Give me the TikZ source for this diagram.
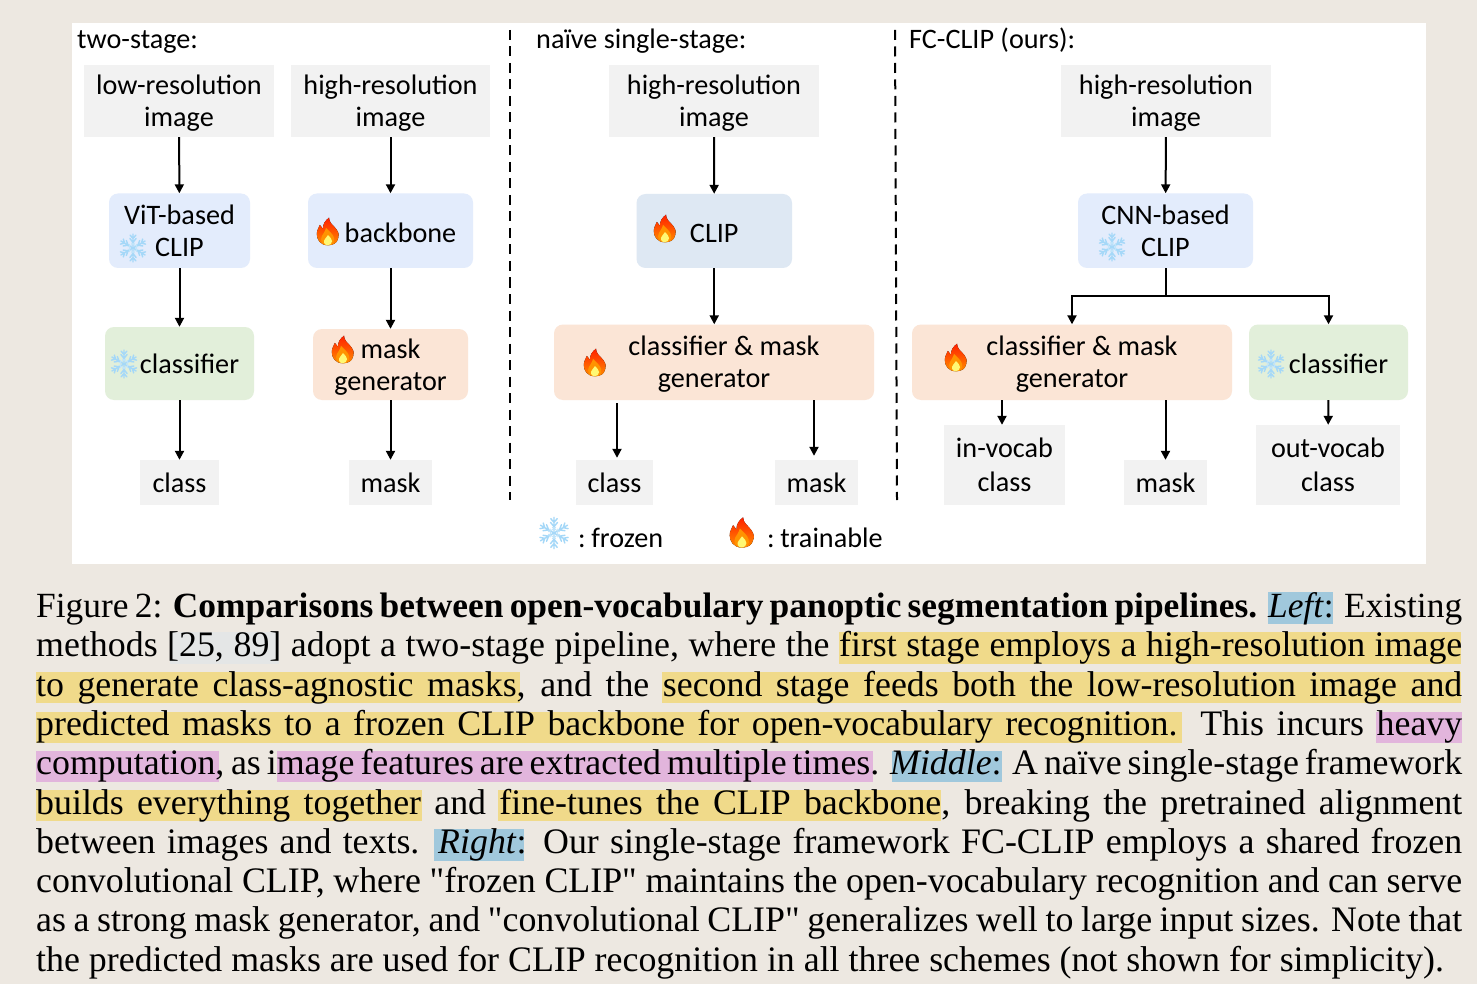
\documentclass[tikz,border=0pt]{standalone}
\usepackage{fontspec}
\newfontfamily\capfont{Liberation Serif}
\newfontfamily\dfont{Carlito}
\usetikzlibrary{arrows.meta,calc}
\definecolor{pagebg}{HTML}{EDE8E1}
\definecolor{grayb}{HTML}{F2F2F2}
\definecolor{blueb}{HTML}{E3ECFC}
\definecolor{blueC}{HTML}{DEE8F3}
\definecolor{greenb}{HTML}{E2EFDA}
\definecolor{orangeb}{HTML}{FBE5D6}
\definecolor{hy}{HTML}{F0DA8A}
\definecolor{hp}{HTML}{E2B5DC}
\definecolor{hb}{HTML}{A0C8DC}
\definecolor{hg}{HTML}{E4E6E6}
\definecolor{snow}{HTML}{A5D8F8}
\tikzset{
  x=1pt,y=-1pt,
  conn/.style={line width=2pt,-{Triangle[length=9pt,width=9pt]}},
  plainconn/.style={line width=2pt},
  divider/.style={line width=2pt,dash pattern=on 10pt off 6.5pt},
  dtext/.style={font=\dfont\fontsize{28.2}{32}\selectfont,text=black,align=center,inner sep=0pt},
  head/.style={font=\dfont\fontsize{28.2}{32}\selectfont,anchor=base west,inner sep=0pt},
  capline/.style={anchor=base west,inner sep=0pt,font=\capfont\fontsize{35.85}{39}\selectfont},
}
\newcommand{\dnb}{\rule{0pt}{24.2pt}}% lowers a two-line text by about 2 units
\newcommand{\dna}{\rule{0pt}{23pt}}% lowers a one-line text by about 1 unit
% box given by its corners
\newcommand{\bx}[8]{% name, x1,y1,x2,y2, colour, radius, text
  \node[dtext,fill=#6,rounded corners=#7,minimum width={#4-#2},minimum height={#5-#3},anchor=center] (#1) at ({(#2+#4)/2},{(#3+#5)/2}) {#8};}
\newcommand{\flame}[3]{%
  \begin{scope}[shift={(#1,#2)},scale=#3]
    \fill[top color=red!75!orange,bottom color=orange!90!yellow]
      (0,13) .. controls (-8,13) and (-11,7) .. (-11,2) .. controls (-11,-2) and (-9,-4) .. (-8,-7)
      .. controls (-6,-5) and (-6,-4) .. (-5,-3) .. controls (-5,-8) and (-3,-11) .. (1,-14)
      .. controls (1,-9) and (5,-7) .. (8,-3) .. controls (11,1) and (11,4) .. (10,6)
      .. controls (9,11) and (5,13) .. (0,13) -- cycle;
    \fill[orange!85!yellow] (0,13) .. controls (-6,13) and (-8,8) .. (-6,4) .. controls (-5,2) and (-3,0) .. (-2,-4)
      .. controls (1,-1) and (5,2) .. (6,6) .. controls (7,10) and (4,13) .. (0,13) -- cycle;
    \fill[yellow!55!white] (0,13) .. controls (-4,13) and (-5,9) .. (-3,7) .. controls (-2,6) and (-1,4) .. (0,3)
      .. controls (2,5) and (4,7) .. (4,9) .. controls (4,11) and (2,13) .. (0,13) -- cycle;
  \end{scope}}
\newcommand{\flake}[3]{%
  \begin{scope}[shift={(#1,#2)},scale=#3]
    \foreach \a in {30,90,150,210,270,330}{
      \begin{scope}[rotate=\a]
        \draw[snow,line width=1.4pt,line cap=round] (0,0) -- (12.5,0)
          (5,0) -- (8.5,2.8) (5,0) -- (8.5,-2.8) (8.5,0) -- (11.5,2.6) (8.5,0) -- (11.5,-2.6);
        \draw[snow!70!white,line width=.9pt] (2.5,-1.5) -- (4.5,1.5) (2.5,1.5) -- (4.5,-1.5);
      \end{scope}}
  \end{scope}}
\begin{document}
\begin{tikzpicture}
\useasboundingbox (0,0) rectangle (1477,984);
\fill[pagebg] (0,0) rectangle (1477,984);
\fill[white] (72,23) rectangle (1426,564);
% headings
\node[head] (h1) at (77,48.5) {two-stage:};
\node[head] (h2) at (536,48.5) {naïve single-stage:};
\node[head] (h3) at (909,48.5) {FC-CLIP (ours):};
% dividers
\coordinate (d1a) at (510,30); \coordinate (d1b) at (510,500);
\coordinate (d2a) at (895,30); \coordinate (d2b) at (897,500);
\draw[divider] (d1a) -- (d1b);
\draw[divider] (d2a) -- (d2b);
% two-stage, left
\bx{lr}{84}{65}{274}{137}{grayb}{0pt}{\dnb low-resolution\\image}
\bx{vit}{109}{193.5}{250}{268}{blueb}{9pt}{ViT-based\\[.7pt]CLIP}
\bx{cl1}{105}{327}{254}{400}{greenb}{9pt}{\hspace*{20pt}classifier}
\bx{c1}{140}{460}{219}{505}{grayb}{0pt}{class}
% two-stage, right
\bx{hr1}{291}{65}{490}{137}{grayb}{0pt}{\dnb high-resolution\\image}
\bx{bb}{308}{193.5}{473}{268}{blueb}{9pt}{\dna\hspace*{20pt}backbone}
\bx{mg}{313}{329}{468}{400}{orangeb}{9pt}{\dnb mask\\generator}
\bx{m1}{349}{460}{432}{505}{grayb}{0pt}{mask}
% single-stage
\bx{hr2}{609}{65}{819}{137}{grayb}{0pt}{\dnb high-resolution\\image}
\bx{clip}{636.5}{194}{792}{268}{blueC}{9pt}{\dna CLIP}
\bx{cm1}{554}{324.5}{874}{400}{orangeb}{9pt}{\dnb\hspace*{20pt}classifier \& mask\\generator}
\bx{c2}{576}{460}{653}{505}{grayb}{0pt}{class}
\bx{m2}{775}{460}{858}{505}{grayb}{0pt}{mask}
% FC-CLIP
\bx{hr3}{1061}{65}{1271}{137}{grayb}{0pt}{\dnb high-resolution\\image}
\bx{cnn}{1078}{193.5}{1253}{268}{blueb}{9pt}{CNN-based\\[.7pt]CLIP}
\bx{cm2}{912}{324.5}{1232}{400}{orangeb}{9pt}{\dnb\hspace*{20pt}classifier \& mask\\generator}
\bx{cl2}{1249}{324.5}{1408}{400}{greenb}{9pt}{\dna\hspace*{20pt}classifier}
\bx{iv}{944}{425}{1065}{505}{grayb}{0pt}{in-vocab\\[2pt]class}
\bx{m3}{1124}{460}{1207}{505}{grayb}{0pt}{mask}
\bx{ov}{1256}{425}{1400}{505}{grayb}{0pt}{out-vocab\\[2pt]class}
% legend
\node[dtext,anchor=base west] (lf) at (578,547) {:\hspace{5.5pt}frozen};
\node[dtext,anchor=base west] (lt) at (767,547) {:\hspace{5.5pt}trainable};
% icons
\flake{133}{248}{1.12}
\flake{124}{364}{1.12}
\flake{1112}{247}{1.12}
\flake{1271}{364}{1.12}
\flake{554}{533}{1.25}
\flame{328}{232}{1.02}
\flame{343}{350}{1.02}
\flame{665}{229}{1.02}
\flame{595}{363}{1.02}
\flame{956}{358}{1.02}
\flame{742}{533}{1.12}
% connectors
\draw[conn] (lr) -- (vit);
\draw[conn] (vit) -- (cl1);
\draw[conn] (cl1) -- (c1);
\draw[conn] (hr1) -- (bb);
\draw[conn] (bb) -- (mg);
\draw[conn] (mg.south -| m1.north) -- (m1.north);
\draw[conn] (hr2) -- (clip);
\draw[conn] (clip) -- (cm1.north -| clip.south);
\draw[conn,shorten <=3pt,shorten >=2pt] ([xshift=2.5pt]c2.north |- cm1.south) -- ([xshift=2.5pt]c2.north);
\draw[conn,shorten >=4pt] ([xshift=-2.5pt]m2.north |- cm1.south) -- ([xshift=-2.5pt]m2.north);
\draw[conn] (hr3) -- (cnn);
\coordinate (split) at (1165.5,296);
\draw[plainconn] (cnn.south) -- (split);
\draw[conn] (split -| cm2.north) -- (cm2.north);
\draw[conn] (split -| cl2.north) -- (cl2.north);
\draw[plainconn,line cap=rect] (split -| cm2.north) -- (split -| cl2.north);
\draw[conn] ([xshift=-2.5pt]iv.north |- cm2.south) -- ([xshift=-2.5pt]iv.north);
\draw[conn] (m3.north |- cm2.south) -- (m3.north);
\draw[conn] (cl2) -- (ov);
% caption highlights
\fill[hb] (1268,592) rectangle (1333,623.5);
\fill[hg] (170,632) rectangle (279,663.5);
\fill[hy] (839,632) rectangle (1461,663.5);
\fill[hy] (36,672) rectangle (520,703);
\fill[hy] (662,672) rectangle (1461,703);
\fill[hy] (36,712) rectangle (1182,743);
\fill[hp] (1376,712) rectangle (1462,743);
\fill[hp] (36,750.5) rectangle (219,782);
\fill[hp] (277,750.5) rectangle (873,782);
\fill[hb] (892,750.5) rectangle (1002,782);
\fill[hy] (36,790) rectangle (422,821);
\fill[hy] (498,790) rectangle (941,821);
\fill[hb] (434,829) rectangle (524,861);
% caption
\node[capline,font=\capfont\fontsize{35.4}{39}\selectfont] (l1) at (36,617) {\hbox to 1426pt{Figure 2: \textbf{Comparisons between open-vocabulary panoptic segmentation pipelines.} \textit{Left}: Existing}};
\node[capline] (l2) at (36,656.3) {\hbox to 1426pt{methods [25, 89] adopt a two-stage pipeline, where the first stage employs a high-resolution image}};
\node[capline] (l3) at (36,696) {\hbox to 1426pt{to generate class-agnostic masks, and the second stage feeds both the low-resolution image and}};
\node[capline] (l4) at (36,735) {\hbox to 1426pt{predicted masks to a frozen CLIP backbone for open-vocabulary recognition. This incurs heavy}};
\node[capline] (l5) at (36,774.3) {\hbox to 1426pt{computation, as image features are extracted multiple times. \textit{Middle}: A naïve single-stage framework}};
\node[capline] (l6) at (36,814) {\hbox to 1426pt{builds everything together and fine-tunes the CLIP backbone, breaking the pretrained alignment}};
\node[capline] (l7) at (36,853) {\hbox to 1426pt{between images and texts. \textit{Right}: Our single-stage framework FC-CLIP employs a shared frozen}};
\node[capline] (l8) at (36,892) {\hbox to 1426pt{convolutional CLIP, where "frozen CLIP" maintains the open-vocabulary recognition and can serve}};
\node[capline] (l9) at (36,931.3) {\hbox to 1426pt{as a strong mask generator, and "convolutional CLIP" generalizes well to large input sizes. Note that}};
\node[capline] (l10) at (36,971) {the predicted masks are used for CLIP recognition in all three schemes (not shown for simplicity).};
\end{tikzpicture}
\end{document}
